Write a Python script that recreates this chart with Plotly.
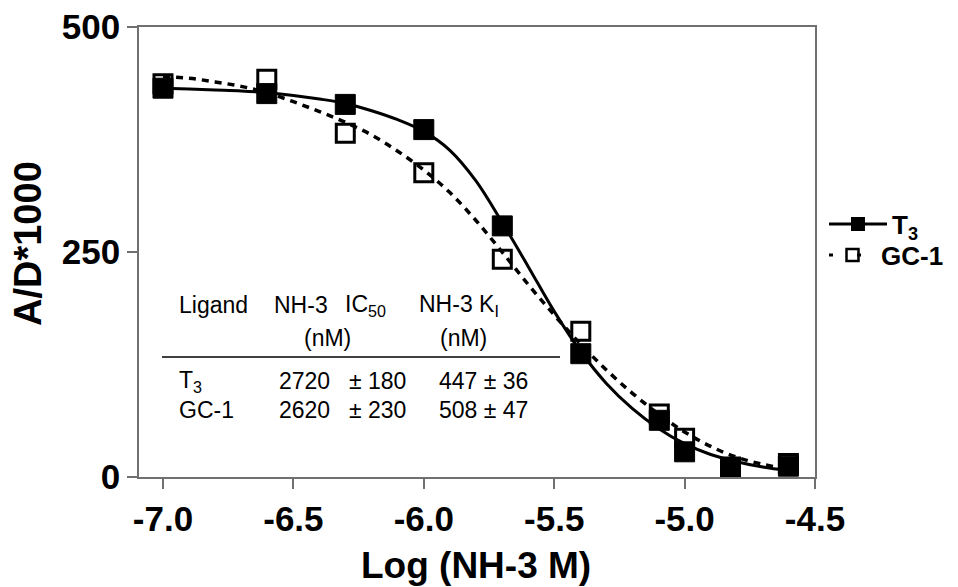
import plotly.graph_objects as go

# ---- data ----
log_conc = [-7.0, -6.602, -6.301, -6.0, -5.699, -5.398, -5.097, -5.0, -4.824, -4.602]
t3_vals = [432, 426, 414, 386, 279, 137, 63, 28, 10, 12]
gc1_vals = [437, 442, 382, 338, 242, 162, 70, 43, 11, 15]

curve_x = [-7.0, -6.9, -6.8, -6.7, -6.6, -6.5, -6.4, -6.3, -6.2, -6.1, -6.0, -5.9, -5.8,
           -5.7, -5.6, -5.5, -5.4, -5.3, -5.2, -5.1, -5.0, -4.9, -4.8, -4.7, -4.6]
t3_curve = [432, 431, 430, 429, 427, 424, 420, 415, 407, 397, 384, 363, 329,
            283, 234, 184, 140, 104, 76, 54, 37, 25, 17, 11, 7]
gc1_curve = [445, 443, 439, 434, 427, 417, 406, 394, 380, 362, 341, 316, 285,
             250, 214, 180, 148, 119, 93, 70, 50, 34, 22, 14, 9]

x_ticks = [-7.0, -6.5, -6.0, -5.5, -5.0, -4.5]
x_ticktext = ["-7.0", "-6.5", "-6.0", "-5.5", "-5.0", "-4.5"]
y_ticks = [0, 250, 500]
y_ticktext = ["0", "250", "500"]

table_header = ["Ligand", "NH-3", "IC<sub>50</sub>", "NH-3 K<sub>I</sub>"]
table_units = ["(nM)", "(nM)"]
table_rows = [
    ["T<sub>3</sub>", "2720", "\u00b1 180", "447 \u00b1 36"],
    ["GC-1", "2620", "\u00b1 230", "508 \u00b1 47"],
]

# ---- layout geometry (page pixels; the page body adds an 8px offset) ----
OFF = 8
W, H = 958 - OFF, 587 - OFF
L, R, T, B = 139 - OFF, 143, 27 - OFF, 110
PW, PH = W - L - R, H - T - B
PLOT_L, PLOT_B = 139, 477
FONT = "Liberation Sans, Arial, sans-serif"


def px_x(px):
    return (px - PLOT_L) / PW


def px_y(py):
    return (PLOT_B - py) / PH


fig = go.Figure()

fig.add_trace(go.Scatter(x=curve_x, y=gc1_curve, mode="lines", line_shape="spline",
                         line=dict(color="black", width=3.5, dash="7px,6px"),
                         showlegend=False, hoverinfo="skip"))
fig.add_trace(go.Scatter(x=curve_x, y=t3_curve, mode="lines", line_shape="spline",
                         line=dict(color="black", width=3),
                         showlegend=False, hoverinfo="skip"))
fig.add_trace(go.Scatter(x=log_conc, y=gc1_vals, mode="markers",
                         marker=dict(symbol="square-open", size=18, color="black",
                                     line=dict(width=3, color="black")),
                         showlegend=False))
fig.add_trace(go.Scatter(x=log_conc, y=t3_vals, mode="markers",
                         marker=dict(symbol="square", size=20, color="black",
                                     line=dict(width=1, color="black")),
                         showlegend=False))

# legend entries (two legends so each row sits where the reference puts it)
fig.add_trace(go.Scatter(x=[None], y=[None], mode="lines+markers", name="T<sub>3</sub>",
                         legend="legend",
                         line=dict(color="black", width=3),
                         marker=dict(symbol="square", size=14, color="black")))
fig.add_trace(go.Scatter(x=[None], y=[None], mode="lines+markers", name="GC-1",
                         legend="legend2",
                         line=dict(color="black", width=3, dash="4px,24px"),
                         marker=dict(symbol="square-open", size=12, color="black",
                                     line=dict(width=2.5))))

# ---- table annotation ----
ann = []
tf = dict(family=FONT, size=23, color="black")
hdr_pos = [177, 272, 343, 417]
for txt, px in zip(table_header, hdr_pos):
    ann.append(dict(text=txt, x=px_x(px), y=px_y(305), xref="paper", yref="paper",
                    xanchor="left", yanchor="middle", showarrow=False, font=tf))
for txt, px in zip(table_units, [302, 438]):
    ann.append(dict(text=txt, x=px_x(px), y=px_y(338), xref="paper", yref="paper",
                    xanchor="left", yanchor="middle", showarrow=False, font=tf))
row_pos = [177, 277, 347, 437]
for row, py in zip(table_rows, [381, 410]):
    for txt, px in zip(row, row_pos):
        ann.append(dict(text=txt, x=px_x(px), y=px_y(py), xref="paper", yref="paper",
                        xanchor="left", yanchor="middle", showarrow=False, font=tf))

# axis titles
ann.append(dict(text="Log (NH-3 M)", x=px_x(476), y=px_y(565), xref="paper", yref="paper",
                xanchor="center", yanchor="middle", showarrow=False,
                font=dict(family=FONT, size=37, color="black", weight="bold")))
ann.append(dict(text="A/D*1000", x=px_x(28), y=px_y(244), xref="paper", yref="paper",
                xanchor="center", yanchor="middle", showarrow=False, textangle=-90,
                font=dict(family=FONT, size=38, color="black", weight="bold")))

leg_font = dict(family=FONT, size=26, color="black", weight="bold")
fig.update_layout(
    width=W, height=H,
    margin=dict(l=L, r=R, t=T, b=B, autoexpand=False),
    paper_bgcolor="white", plot_bgcolor="white",
    annotations=ann,
    shapes=[dict(type="line", xref="paper", yref="paper",
                 x0=px_x(162), x1=px_x(560), y0=px_y(357), y1=px_y(357),
                 line=dict(color="black", width=1.5))],
    legend=dict(x=px_x(824), y=px_y(224), xanchor="left", yanchor="middle",
                font=leg_font, bgcolor="rgba(0,0,0,0)", itemwidth=58),
    legend2=dict(x=px_x(824), y=px_y(255), xanchor="left", yanchor="middle",
                 font=leg_font, bgcolor="rgba(0,0,0,0)", itemwidth=47),
    showlegend=True,
)

axis_common = dict(showline=True, linecolor="#707070", linewidth=1.5, mirror=True,
                   ticks="outside", ticklen=10, tickwidth=1.5, tickcolor="#707070",
                   showgrid=False, zeroline=False, ticklabeloverflow="allow",
                   tickfont=dict(family=FONT, size=35, color="black", weight="bold"))
fig.update_xaxes(range=[-7.092, -4.5], tickvals=x_ticks, ticktext=x_ticktext, **axis_common)
fig.update_yaxes(range=[0, 500], tickvals=y_ticks, ticktext=y_ticktext, **axis_common)

fig.write_html("out.html")
